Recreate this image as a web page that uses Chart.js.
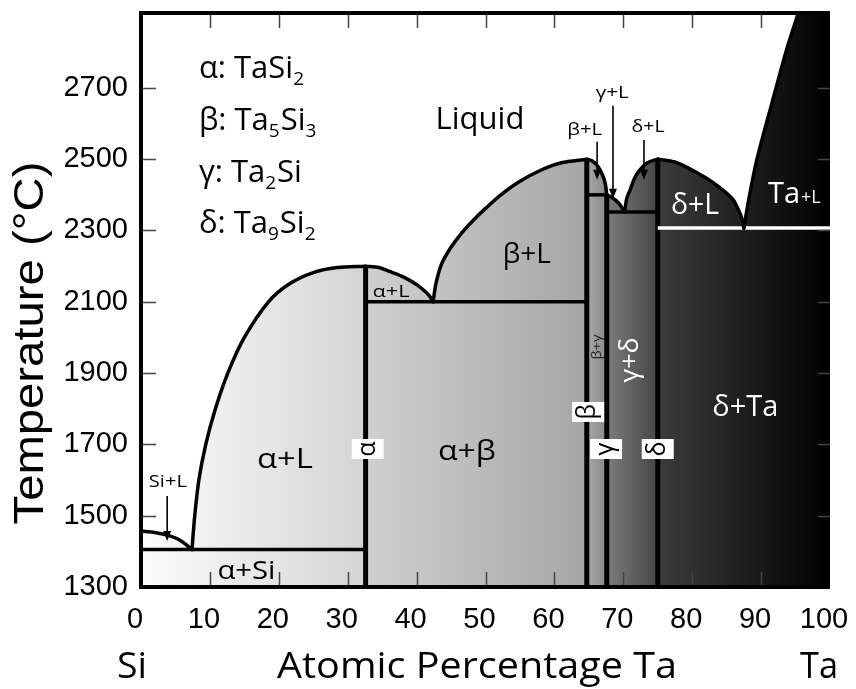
<!DOCTYPE html>
<html>
<head>
<meta charset="utf-8">
<script src="https://cdn.jsdelivr.net/npm/chart.js@4.4.1/dist/chart.umd.min.js"></script>
<style>
  html, body { margin: 0; background: #fff; }
</style>
</head>
<body>
<canvas id="phase" width="856" height="689"></canvas>
<script>
// tick values
const xTicks = [0, 10, 20, 30, 40, 50, 60, 70, 80, 90, 100];
const yTicks = [1300, 1500, 1700, 1900, 2100, 2300, 2500, 2700];

// liquidus curves, [at% Ta, °C]
const siLiquidus = [[0, 1457], [2, 1453], [3.7, 1446], [5.6, 1432], [7.4, 1405]];
const alphaLiquidus = [[7.4, 1405], [7.8, 1500], [8.4, 1600], [9.4, 1700], [10.8, 1800], [12.6, 1900],
  [15.0, 2000], [18.5, 2100], [21.5, 2150], [25, 2182], [28.5, 2196], [32.6, 2200]];
const alphaRightLiquidus = [[32.6, 2200], [34.5, 2196], [36.1, 2185], [37.8, 2172], [39, 2160],
  [40, 2148], [41, 2133], [41.8, 2118], [42.4, 2100]];
const betaLiquidus = [[42.4, 2100], [42.8, 2150], [43.6, 2205], [44.9, 2250], [46.5, 2292], [48.2, 2328],
  [50, 2362], [52.1, 2398], [55, 2438], [58, 2469], [61, 2490], [64.7, 2500]];
const betaRightLiquidus = [[64.7, 2500], [65.5, 2495], [66.3, 2480], [67, 2455], [67.4, 2430], [67.6, 2400]];
const gammaLiquidus = [[67.6, 2400], [68.3, 2393], [69, 2383], [69.6, 2370], [70.2, 2352]];
const deltaLeftLiquidus = [[70.2, 2352], [70.5, 2390], [71, 2414], [71.6, 2445], [72.4, 2470], [73.5, 2490], [75, 2500]];
const deltaRightLiquidus = [[75, 2500], [77.5, 2492], [80.7, 2462], [83, 2435], [84.8, 2408], [86, 2385],
  [86.7, 2358], [87.2, 2335], [87.5, 2307]];
const taLiquidus = [[87.5, 2307], [88.2, 2386], [89.4, 2500], [91.7, 2666], [93.7, 2807], [95.4, 2910]];

// invariant lines
const siEutectic = [[0, 1405], [32.6, 1405]];
const alphaEutectic = [[32.6, 2100], [64.7, 2100]];
const betaPeritectic = [[64.7, 2400], [67.6, 2400]];
const gammaEutectic = [[67.6, 2352], [75, 2352]];
const deltaEutectic = [[75, 2307], [100, 2307]];

// compounds: composition and top of their line
const compoundX = [32.6, 64.7, 67.6, 75];
const compoundTop = [2200, 2500, 2400, 2500];

// grey shading along composition
const shadeStops = [[0, '#fcfcfc'], [32.6, '#d4d4d4'], [32.6, '#d0d0d0'], [64.7, '#a6a6a6'],
  [64.7, '#a6a6a6'], [67.6, '#8a8a8a'], [67.6, '#7c7c7c'], [75, '#454545'], [75, '#3c3c3c'], [100, '#000000']];

const pts = (arr) => arr.map(([x, y]) => ({x, y}));

const solidOutline = [[0, 1300], ...siLiquidus, ...alphaLiquidus.slice(1), ...alphaRightLiquidus.slice(1),
  ...betaLiquidus.slice(1), ...betaRightLiquidus.slice(1), ...gammaLiquidus.slice(1),
  ...deltaLeftLiquidus.slice(1), ...deltaRightLiquidus.slice(1), ...taLiquidus.slice(1),
  [100, 2910], [100, 1300]];

function shade(context) {
  const chart = context.chart;
  if (!chart.chartArea) return '#ccc';
  const x = chart.scales.x;
  const g = chart.ctx.createLinearGradient(x.getPixelForValue(0), 0, x.getPixelForValue(100), 0);
  shadeStops.forEach(([v, c]) => g.addColorStop(v / 100, c));
  return g;
}

const curveStyle = {borderColor: '#000', borderWidth: 3.5, pointRadius: 0, fill: false, tension: 0.3,
  borderCapStyle: 'round', order: 0};
const datasets = [
  {data: pts(solidOutline), fill: 'shape', backgroundColor: shade, borderWidth: 0, pointRadius: 0, tension: 0, order: 5},
];
[siLiquidus, alphaLiquidus, alphaRightLiquidus, betaLiquidus, betaRightLiquidus, gammaLiquidus,
  deltaLeftLiquidus, deltaRightLiquidus, taLiquidus].forEach(c => datasets.push({...curveStyle, data: pts(c)}));
[siEutectic, alphaEutectic, betaPeritectic, gammaEutectic].forEach(l =>
  datasets.push({...curveStyle, tension: 0, borderCapStyle: 'butt', data: pts(l)}));
datasets.push({...curveStyle, tension: 0, borderCapStyle: 'butt', borderColor: '#fff', data: pts(deltaEutectic)});
compoundX.forEach((cx, i) => datasets.push({...curveStyle, tension: 0, borderWidth: 5, borderCapStyle: 'butt',
  data: [{x: cx, y: 1300}, {x: cx, y: compoundTop[i]}]}));

// annotations (data coordinates)
const regionLabels = [
  {text: 'Liquid', x: 49.2, y: 2610, size: 31},
  {text: 'β+L', x: 56.0, y: 2232, size: 28},
  {text: 'α+L', x: 36.3, y: 2128, size: 17, width: 37},
  {text: 'α+L', x: 20.9, y: 1656, size: 27, width: 56},
  {text: 'α+β', x: 47.3, y: 1679, size: 27, width: 58},
  {text: 'α+Si', x: 15.3, y: 1342, size: 25, width: 58},
  {text: 'Si+L', x: 3.9, y: 1592, size: 16, width: 38},
  {text: 'β+L', x: 64.4, y: 2582, size: 17, width: 35},
  {text: 'γ+L', x: 68.4, y: 2686, size: 17, width: 33},
  {text: 'δ+L', x: 73.6, y: 2591, size: 17, width: 33},
  {text: 'δ+L', x: 80.4, y: 2369, size: 29, width: 48, color: '#fff'},
  {text: 'δ+Ta', x: 87.7, y: 1802, size: 29, width: 66, color: '#fff'},
  {text: 'γ+δ', x: 71.1, y: 1937, size: 26, width: 45, color: '#fff', rotate: true},
  {text: 'β+γ', x: 66.2, y: 1973, size: 12, width: 25, color: '#222', rotate: true},
];
const arrows = [
  {x: 3.8, from: 1555, to: 1429},
  {x: 66.2, from: 2549, to: 2442},
  {x: 68.5, from: 2650, to: 2389},
  {x: 73.0, from: 2554, to: 2442},
];
const phaseBoxes = [
  {text: 'α', x: 32.9, y: 1687}, {text: 'β', x: 64.9, y: 1791},
  {text: 'γ', x: 67.5, y: 1687}, {text: 'δ', x: 75.0, y: 1687},
];
const legendRows = [
  {y: 2728, parts: ['α: TaSi', '2']},
  {y: 2582, parts: ['β: Ta', '5', 'Si', '3']},
  {y: 2436, parts: ['γ: Ta', '2', 'Si']},
  {y: 2293, parts: ['δ: Ta', '9', 'Si', '2']},
];

const SANS = '"Open Sans", sans-serif';

function putText(ctx, str, px, py, o) {
  ctx.save();
  ctx.translate(px, py);
  if (o.rotate) ctx.rotate(-Math.PI / 2);
  ctx.font = o.size + 'px ' + (o.family || SANS);
  const w = ctx.measureText(str).width;
  if (o.width) ctx.scale(o.width / w, 1);
  ctx.fillStyle = o.color || '#000';
  ctx.textAlign = o.align || 'center';
  ctx.textBaseline = o.baseline || 'middle';
  ctx.fillText(str, 0, 0);
  ctx.restore();
}

const decorations = {
  id: 'decorations',
  afterDatasetsDraw(chart) {
    const {ctx, chartArea: a, scales: {x, y}} = chart;
    ctx.save();
    // inward ticks
    ctx.strokeStyle = '#444';
    ctx.lineWidth = 1.5;
    ctx.beginPath();
    xTicks.slice(1, -1).forEach(v => {
      const px = Math.round(x.getPixelForValue(v)) + 0.5;
      ctx.moveTo(px, a.top); ctx.lineTo(px, a.top + 15);
      ctx.moveTo(px, a.bottom); ctx.lineTo(px, a.bottom - 15);
    });
    yTicks.slice(1).forEach(v => {
      const py = Math.round(y.getPixelForValue(v)) + 0.5;
      ctx.moveTo(a.left, py); ctx.lineTo(a.left + 15, py);
      ctx.moveTo(a.right, py); ctx.lineTo(a.right - 12, py);
    });
    ctx.stroke();
    // frame
    ctx.strokeStyle = '#000';
    ctx.lineWidth = 4;
    ctx.beginPath();
    ctx.moveTo(a.right, a.top); ctx.lineTo(a.left, a.top);
    ctx.lineTo(a.left, a.bottom); ctx.lineTo(a.right, a.bottom);
    ctx.stroke();

    // arrows
    ctx.strokeStyle = '#000';
    ctx.fillStyle = '#000';
    ctx.lineWidth = 1.6;
    arrows.forEach(ar => {
      const px = x.getPixelForValue(ar.x);
      const y0 = y.getPixelForValue(ar.from), y1 = y.getPixelForValue(ar.to);
      ctx.beginPath(); ctx.moveTo(px, y0); ctx.lineTo(px, y1 - 6); ctx.stroke();
      ctx.beginPath(); ctx.moveTo(px - 4, y1 - 10); ctx.lineTo(px + 4, y1 - 10); ctx.lineTo(px, y1); ctx.closePath(); ctx.fill();
    });

    // region labels
    regionLabels.forEach(l => putText(ctx, l.text, x.getPixelForValue(l.x), y.getPixelForValue(l.y), l));

    // Ta+L with small +L
    {
      const px = x.getPixelForValue(91.0), py = y.getPixelForValue(2377);
      ctx.fillStyle = '#fff';
      ctx.textBaseline = 'alphabetic';
      ctx.textAlign = 'left';
      ctx.font = '29px ' + SANS;
      ctx.fillText('Ta', px, py);
      const w = ctx.measureText('Ta').width;
      ctx.font = '18px ' + SANS;
      ctx.fillText('+L', px + w + 1, py);
    }

    // compound boxes
    phaseBoxes.forEach(b => {
      const px = x.getPixelForValue(b.x), py = y.getPixelForValue(b.y);
      ctx.fillStyle = '#fff';
      ctx.fillRect(px - 16, py - 10, 32, 20);
      putText(ctx, b.text, px, py, {size: 25, rotate: true});
    });

    // legend
    ctx.fillStyle = '#000';
    ctx.textAlign = 'left';
    ctx.textBaseline = 'alphabetic';
    legendRows.forEach(r => {
      let px = x.getPixelForValue(8.4);
      const py = y.getPixelForValue(r.y);
      r.parts.forEach((p, i) => {
        const sub = i % 2 === 1;
        ctx.font = (sub ? 19 : 31) + 'px ' + SANS;
        ctx.fillText(p, px, py + (sub ? 7 : 0));
        px += ctx.measureText(p).width + (sub ? 1 : 0);
      });
    });

    // axis titles
    putText(ctx, 'Temperature (°C)', 43, 343, {size: 43, family: '"Liberation Sans", Arial, sans-serif',
      width: 363, rotate: true, baseline: 'alphabetic'});
    putText(ctx, 'Si', 132, 678, {size: 37, width: 30, baseline: 'alphabetic'});
    putText(ctx, 'Atomic Percentage Ta', 477, 678, {size: 37, width: 400, baseline: 'alphabetic'});
    putText(ctx, 'Ta', 819, 678, {size: 37, width: 38, baseline: 'alphabetic'});
    ctx.restore();
  }
};

const tickFont = {family: '"Liberation Sans", Arial, sans-serif', size: 29};

function draw() {
  new Chart(document.getElementById('phase'), {
    type: 'line',
    data: {datasets},
    plugins: [decorations],
    options: {
      responsive: false,
      animation: false,
      events: [],
      layout: {padding: {top: 13, right: 26, left: 0, bottom: 0}},
      plugins: {legend: {display: false}, tooltip: {enabled: false}},
      scales: {
        x: {
          type: 'linear', min: 0, max: 100,
          afterBuildTicks: s => { s.ticks = xTicks.map(v => ({value: v})); },
          afterFit: s => { s.height = 102; s.paddingLeft = 0; s.paddingRight = 0; },
          grid: {display: false, drawTicks: false},
          border: {display: false},
          ticks: {font: tickFont, color: '#000', padding: 16, labelOffset: -6, maxRotation: 0, autoSkip: false,
            callback: v => String(v)}
        },
        y: {
          type: 'linear', min: 1300, max: 2910,
          afterBuildTicks: s => { s.ticks = yTicks.map(v => ({value: v})); },
          afterFit: s => { s.width = 141; s.paddingTop = 0; s.paddingBottom = 0; },
          grid: {display: false, drawTicks: false},
          border: {display: false},
          ticks: {font: tickFont, color: '#000', padding: 13, autoSkip: false, callback: v => String(v)}
        }
      }
    }
  });
}

Promise.all([
  document.fonts.load('28px "Open Sans"'),
  document.fonts.load('29px "Liberation Sans"')
]).then(draw, draw);
</script>
</body>
</html>
